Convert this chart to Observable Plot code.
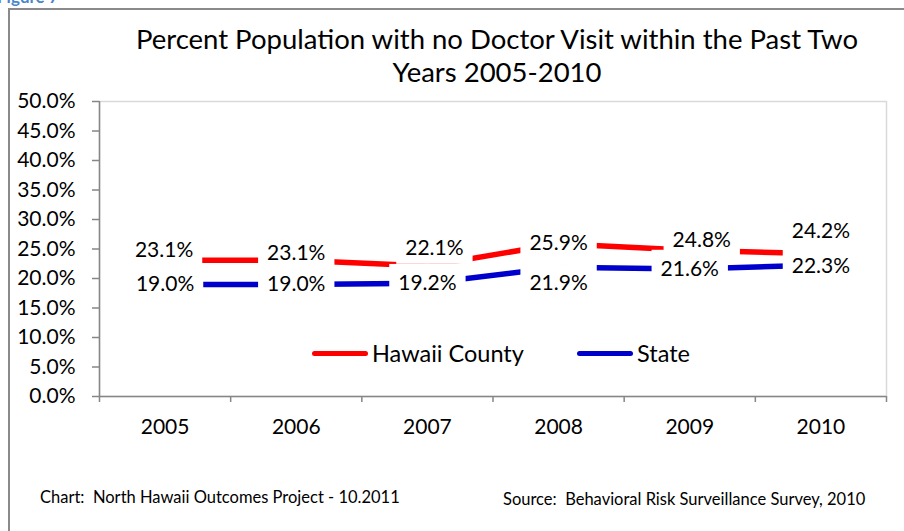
<!DOCTYPE html>
<html>
<head>
<meta charset="utf-8">
<script src="https://cdn.jsdelivr.net/npm/d3@7"></script>
<script src="https://cdn.jsdelivr.net/npm/@observablehq/plot@0.6"></script>
<style>
  html, body { margin: 0; padding: 0; background: #fff; overflow: hidden; }
  #wrap { position: relative; width: 904px; height: 531px; font-family: Lato, "Open Sans", sans-serif; }
  #border { position: absolute; left: 8px; top: 8px; right: -4px; bottom: -4px; border-left: 2px solid #8a8a8a; border-top: 2px solid #8a8a8a; pointer-events: none; }
  #fig { position: absolute; left: -3px; top: -14px; color: #4a86c8; font-weight: bold; font-size: 17px; }
  .title { position: absolute; left: 0; width: 994px; text-align: center; font-size: 27.5px; color: #000; white-space: nowrap; }
  .foot { position: absolute; font-size: 16.5px; color: #000; white-space: pre; }
  .leg { position: absolute; font-size: 23.5px; color: #000; display: flex; align-items: center; white-space: nowrap; }
  .sw { display: inline-block; width: 56px; height: 5px; border-radius: 3px; margin-right: 4px; }
  #chart { position: absolute; left: 0; top: 0; }
</style>
</head>
<body>
<div id="wrap">
  <div id="chart"></div>
  <div id="fig">Figure 7</div>
  <div id="border"></div>
</div>
<script>
// ---- data ----
const years = [2005, 2006, 2007, 2008, 2009, 2010];
const hawaiiCounty = [23.1, 23.1, 22.1, 25.9, 24.8, 24.2];
const state = [19.0, 19.0, 19.2, 21.9, 21.6, 22.3];
const seriesNames = ["Hawaii County", "State"];
const yTicks = [0, 5, 10, 15, 20, 25, 30, 35, 40, 45, 50];
const titleLines = ["Percent Population with no Doctor Visit within the Past Two", "Years 2005-2010"];
const footLeft = "Chart:  North Hawaii Outcomes Project - 10.2011";
const footRight = "Source:  Behavioral Risk Surveillance Survey, 2010";

// ---- styling ----
const colors = ["#ff0000", "#0000cc"];
// label offsets (px) relative to each point: [dx, dy]
const labelOffsets = {
  "Hawaii County": [[-1, -10], [0, -7], [7, -18], [0, 0], [12, -10], [0, -22]],
  "State": [[0, 0], [0, 0], [0, 0], [0, 16], [0, 0], [0, 1]]
};

const rows = [];
years.forEach((y, i) => {
  rows.push({year: y, value: hawaiiCounty[i], series: seriesNames[0], i});
  rows.push({year: y, value: state[i], series: seriesNames[1], i});
});

const boundaries = d3.range(years.length + 1).map(i => years[0] - 0.5 + i);
const fmt = v => v.toFixed(1) + "%";

const labelMarks = rows.map(r => {
  const [dx, dy] = labelOffsets[r.series][r.i];
  return Plot.text([r], {x: "year", y: "value", text: d => fmt(d.value), dx, dy,
    fill: "black", fontSize: 21, className: "dlabel"});
});

const plot = Plot.plot({
  width: 904,
  height: 531,
  marginLeft: 99,
  marginRight: 18,
  marginTop: 101,
  marginBottom: 135,
  style: {fontFamily: "Lato, 'Open Sans', sans-serif", fontSize: "21px", background: "transparent", overflow: "visible"},
  x: {domain: [boundaries[0], boundaries[boundaries.length - 1]]},
  y: {domain: [0, 50]},
  color: {domain: seriesNames, range: colors},
  marks: [
    Plot.frame({stroke: "#d9d9d9", strokeWidth: 1.5}),
    Plot.axisY({ticks: yTicks, tickSize: 7, tickPadding: 17, tickFormat: fmt, stroke: "#868686", fill: "black", strokeWidth: 1.5, label: null, fontSize: 21}),
    Plot.axisX({ticks: boundaries, tickSize: 6, tickFormat: () => "", stroke: "#868686", strokeWidth: 1.5, label: null}),
    Plot.axisX({ticks: years, tickSize: 0, tickPadding: 23, tickFormat: d => String(d), fill: "black", label: null, fontSize: 21}),
    Plot.ruleX([boundaries[0]], {stroke: "#868686", strokeWidth: 1.5}),
    Plot.ruleY([0], {stroke: "#868686", strokeWidth: 1.5}),
    Plot.line(rows, {x: "year", y: "value", z: "series", stroke: "series", strokeWidth: 5.5}),
    ...labelMarks
  ]
});
document.getElementById("chart").appendChild(plot);

// white label boxes behind data labels (like spreadsheet data labels)
plot.querySelectorAll("g.dlabel text, .dlabel text").forEach(t => {
  const b = t.getBBox();
  const padX = 9, padY = 5;
  const rect = document.createElementNS("http://www.w3.org/2000/svg", "rect");
  rect.setAttribute("x", b.x - padX);
  rect.setAttribute("y", b.y - padY);
  rect.setAttribute("width", b.width + 2 * padX);
  rect.setAttribute("height", b.height + 2 * padY);
  rect.setAttribute("fill", "white");
  const tr = t.getAttribute("transform");
  if (tr) rect.setAttribute("transform", tr);
  t.parentNode.insertBefore(rect, t);
});

// titles, legend, footers
const wrap = document.getElementById("wrap");
titleLines.forEach((line, i) => {
  const d = document.createElement("div");
  d.className = "title";
  d.textContent = line;
  d.style.top = (22 + i * 33) + "px";
  wrap.appendChild(d);
});
const legPos = [312, 577];
seriesNames.forEach((name, i) => {
  const d = document.createElement("div");
  d.className = "leg";
  d.style.left = legPos[i] + "px";
  d.style.top = "339px";
  const sw = document.createElement("span");
  sw.className = "sw";
  sw.style.background = colors[i];
  d.appendChild(sw);
  d.appendChild(document.createTextNode(name));
  wrap.appendChild(d);
});
const f1 = document.createElement("div");
f1.className = "foot"; f1.textContent = footLeft; f1.style.left = "40px"; f1.style.top = "487px";
wrap.appendChild(f1);
const f2 = document.createElement("div");
f2.className = "foot"; f2.textContent = footRight; f2.style.left = "503px"; f2.style.top = "489px";
wrap.appendChild(f2);
</script>
</body>
</html>
